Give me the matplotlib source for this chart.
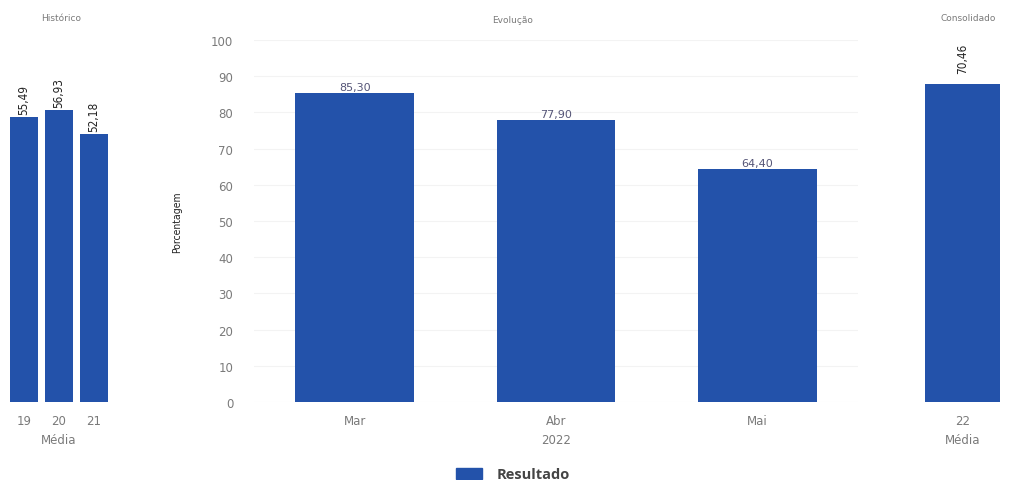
import matplotlib.pyplot as plt
from matplotlib.patches import Patch

# data
hist_years = ['19', '20', '21']
hist_values = [55.49, 56.93, 52.18]
hist_labels = ['55,49', '56,93', '52,18']

months = ['Mar', 'Abr', 'Mai']
month_values = [85.30, 77.90, 64.40]
month_labels = ['85,30', '77,90', '64,40']

cons_years = ['22']
cons_values = [70.46]
cons_labels = ['70,46']

bar_color = '#2352aa'
grey = '#7a7a7a'

fig = plt.figure(figsize=(10.09, 4.81), dpi=100)

bottom = 0.1622
height = 0.7526

# Histórico panel
ax1 = fig.add_axes([0.0064, bottom, 0.1041, height])
ax1.bar(range(len(hist_values)), hist_values, width=0.8, color=bar_color)
ax1.set_xlim(-0.5, 2.5)
ax1.set_ylim(0, 70.5)
ax1.set_xticks(range(len(hist_years)))
ax1.set_xticklabels(hist_years, color=grey, fontsize=8.5)
ax1.set_yticks([])
ax1.set_xlabel('Média', color=grey, fontsize=8.5, labelpad=4)
for i, v in enumerate(hist_values):
    ax1.text(i, v + 0.5, hist_labels[i], rotation=90, ha='center', va='bottom',
             fontsize=8.5, color='#222222', fontstretch='condensed')
fig.text(0.061, 0.962, 'Histórico', ha='center', va='center', fontsize=6.5, color=grey)

# Evolução panel
ax2 = fig.add_axes([0.2517, bottom, 0.5986, height])
ax2.bar(range(len(month_values)), month_values, width=0.59, color=bar_color)
ax2.set_xlim(-0.5, 2.5)
ax2.set_ylim(0, 100)
ax2.set_yticks(range(0, 101, 10))
ax2.set_yticklabels([str(t) for t in range(0, 101, 10)], color=grey, fontsize=8.5)
ax2.set_xticks(range(len(months)))
ax2.set_xticklabels(months, color=grey, fontsize=8.5)
ax2.set_xlabel('2022', color=grey, fontsize=8.5, labelpad=4)
ax2.set_ylabel('Porcentagem', fontsize=7.5, color='#222222', labelpad=21,
               fontstretch='condensed')
ax2.grid(axis='y', color='#f3f3f3', linewidth=0.8)
ax2.set_axisbelow(True)
for i, v in enumerate(month_values):
    ax2.text(i, v + 0.3, month_labels[i], ha='center', va='bottom',
             fontsize=8, color='#555577')
fig.text(0.508, 0.958, 'Evolução', ha='center', va='center', fontsize=6.5, color=grey)

# Consolidado panel
ax3 = fig.add_axes([0.9073, bottom, 0.0932, height])
ax3.bar(range(len(cons_values)), cons_values, width=0.8, color=bar_color)
ax3.set_xlim(-0.5, 0.5)
ax3.set_ylim(0, 80.2)
ax3.set_xticks(range(len(cons_years)))
ax3.set_xticklabels(cons_years, color=grey, fontsize=8.5)
ax3.set_yticks([])
ax3.set_xlabel('Média', color=grey, fontsize=8.5, labelpad=4)
for i, v in enumerate(cons_values):
    ax3.text(i, v + 2.5, cons_labels[i], rotation=90, ha='center', va='bottom',
             fontsize=8.5, color='#222222', fontstretch='condensed')
fig.text(0.96, 0.962, 'Consolidado', ha='center', va='center', fontsize=6.5, color=grey)

for ax in (ax1, ax2, ax3):
    for s in ax.spines.values():
        s.set_visible(False)
    ax.tick_params(axis='x', length=0, pad=9)
ax2.tick_params(axis='y', length=0, pad=15)

fig.legend(handles=[Patch(color=bar_color, label='Resultado')], loc='center',
           bbox_to_anchor=(0.508, 0.012), frameon=False, handlelength=1.8,
           handleheight=0.8, handletextpad=1.0,
           prop={'family': 'Open Sans', 'weight': 'bold', 'size': 10.5},
           labelcolor='#444444')

fig.savefig('out.png', dpi=100)
